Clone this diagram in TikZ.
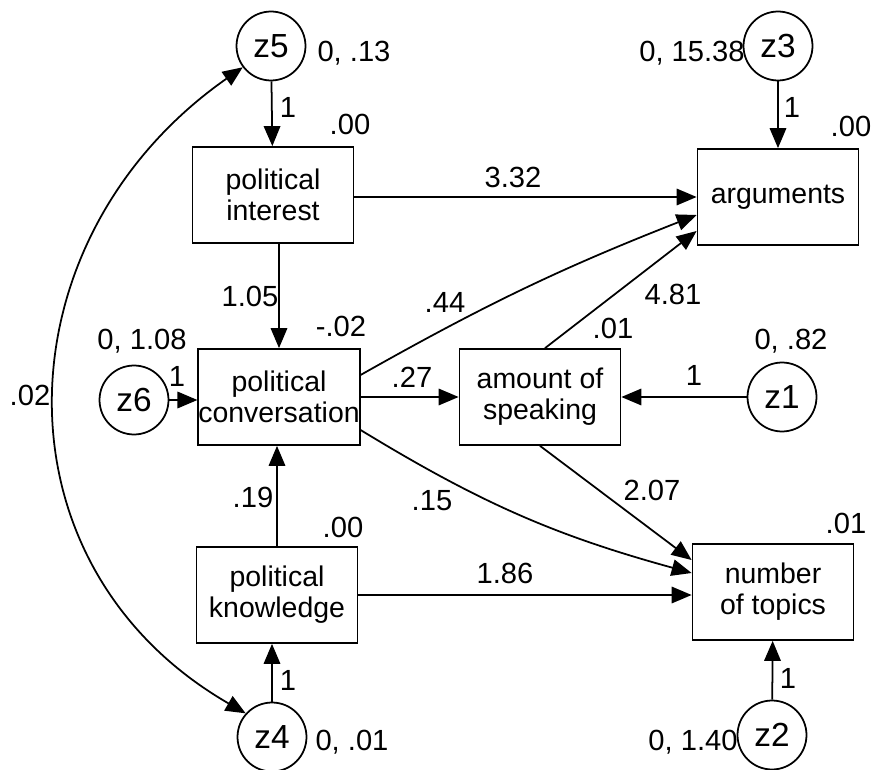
\documentclass[tikz,border=0pt]{standalone}
\usepackage{fontspec}
\setmainfont{Liberation Sans}
\usetikzlibrary{
    arrows.meta
  , positioning
}

\tikzset{
  var/.style={draw, rectangle, line width=1pt, minimum width=3.22cm,
    minimum height=1.92cm, align=center, inner sep=0pt,
    font=\fontsize{16.2}{17.5}\selectfont},
  err/.style={draw, circle, line width=1pt, minimum size=1.38cm, inner sep=0pt,
    font=\fontsize{19}{20}\selectfont},
  arr/.style={-{Triangle[length=4mm,width=3.3mm]}, line width=1pt},
  cov/.style={{Triangle[length=4mm,width=3.3mm]}-{Triangle[length=4mm,width=3.3mm]},
    line width=1pt},
  est/.style={anchor=base, inner sep=0pt},
}

\begin{document}
\begin{tikzpicture}[x=0.02cm, y=-0.02cm,
    every node/.style={font=\fontsize{16.6}{17.5}\selectfont}]
  \useasboundingbox (0,0) rectangle (876,770);
  % Observed Variables
  \node[var] (interest) at (273,195) {political\\interest};
  \node[var] (conv) at (279,397) {political\\conversation};
  \node[var] (know) at (277,595) {political\\knowledge};
  \node[var] (amount) at (540,397) {amount of\\speaking};
  \node[var] (args) at (778,197) {arguments};
  \node[var] (topics) at (773,592) {number\\of topics};
  % Error Terms
  \node[err] (z5) at (271,46) {z5};
  \node[err] (z6) at (134,400) {z6};
  \node[err] (z4) at (272,737) {z4};
  \node[err] (z3) at (778,46) {z3};
  \node[err] (z1) at (782,397) {z1};
  \node[err] (z2) at (772,735) {z2};
  % Means, Variances and Intercepts
  \node[est] (v-z5) at (354,62) {0, .13};
  \node[est] (v-z6) at (142,350) {0, 1.08};
  \node[est] (v-z4) at (352,750) {0, .01};
  \node[est] (v-z3) at (692,62) {0, 15.38};
  \node[est] (v-z1) at (791,350) {0, .82};
  \node[est] (v-z2) at (693,750) {0, 1.40};
  \node[est] (i-interest) at (350,135) {.00};
  \node[est] (i-conv) at (341,337) {-.02};
  \node[est] (i-know) at (343,537) {.00};
  \node[est] (i-amount) at (613,338) {.01};
  \node[est] (i-args) at (851,137) {.00};
  \node[est] (i-topics) at (846,533) {.01};
  % Error Paths
  \draw[arr] (z5) -- (interest);
  \draw[arr] (z6) -- (z6 -| conv.west);
  \draw[arr] (z4) -- (z4 |- know.south);
  \draw[arr] (z3) -- (args);
  \draw[arr] (z1) -- (amount);
  \draw[arr] (z2) -- (topics);
  \node[est] (w-z5) at (288,118) {1};
  \node[est] (w-z6) at (177,386) {1};
  \node[est] (w-z4) at (288,690) {1};
  \node[est] (w-z3) at (792,118) {1};
  \node[est] (w-z1) at (694,385) {1};
  \node[est] (w-z2) at (788,688) {1};
  % Regression Paths
  \draw[arr] (interest.south -| conv) -- (conv.north);
  \draw[arr] (know) -- (know |- conv.south);
  \draw[arr] (interest.east |- args) -- (args.west);
  \draw[arr] (know.east) -- (know.east -| topics.west);
  \draw[arr] (conv.east) -- (amount.west);
  \draw[arr,bend left=4] ([yshift=0.44cm]conv.east) to ([yshift=-0.36cm]args.west);
  \draw[arr] ([xshift=0.1cm]amount.north) -- ([yshift=-0.68cm]args.west);
  \draw[arr,bend right=8] ([yshift=-0.66cm]conv.east) to ([yshift=0.38cm]topics.west);
  \draw[arr] (amount.south) -- ([yshift=0.64cm]topics.west);
  \node[est] (b-int-conv) at (250,307) {1.05};
  \node[est] (b-know-conv) at (253,507) {.19};
  \node[est] (b-int-args) at (513,188) {3.32};
  \node[est] (b-conv-args) at (445,313) {.44};
  \node[est] (b-amount-args) at (673,305) {4.81};
  \node[est] (b-conv-amount) at (412,387) {.27};
  \node[est] (b-amount-topics) at (652,500) {2.07};
  \node[est] (b-conv-topics) at (432,510) {.15};
  \node[est] (b-know-topics) at (505,583) {1.86};
  % Covariance
  \draw[cov] (z5.217) .. controls +(215:5.96cm) and +(150:5.96cm) .. (z4.138);
  \node[est] (c-z5-z4) at (30,405) {.02};
\end{tikzpicture}
\end{document}
